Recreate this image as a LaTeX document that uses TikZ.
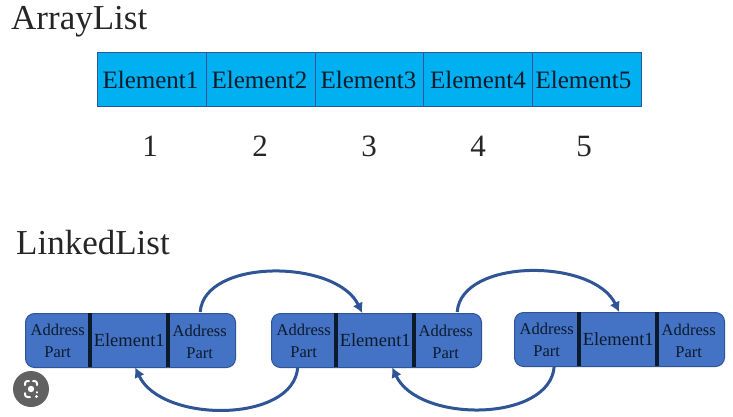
\documentclass[tikz,border=0pt]{standalone}
\usepackage{fontspec}
\setmainfont{Liberation Serif}
\usetikzlibrary{arrows.meta}
\definecolor{cyanfill}{HTML}{00B0F0}
\definecolor{bluefill}{HTML}{4472C4}
\definecolor{blueline}{HTML}{2F5597}
\definecolor{inktext}{HTML}{0B1B2B}
\newcommand{\fs}[1]{\fontsize{#1}{#1}\selectfont}
\tikzset{
  x=1pt,y=-1pt,
  title/.style={anchor=base west,inner sep=0pt,text=black!85,font=\fs{35}},
  acell/.style={draw=blueline,line width=1pt,fill=cyanfill,minimum height=54pt,inner sep=0pt,text=inktext,font=\fs{25},anchor=north west},
  idx/.style={inner sep=0pt,text=black!85,font=\fs{31}},
  lbox/.style={draw=blueline,line width=1pt,fill=bluefill,rounded corners=9pt,minimum width=210pt,minimum height=54pt,inner sep=0pt,anchor=north west},
  lcell/.style={minimum height=54pt,inner sep=0pt,anchor=north west,text=inktext},
  addr/.style={lcell,align=center,font=\fs{16.5}},
  elem/.style={lcell,font=\fs{18.5}},
  divider/.style={draw=inktext,line width=3.2pt},
  link/.style={draw=blueline,line width=3pt,-{Latex[length=10pt,width=11pt]}},
}
\newcommand{\addrtext}{Address\\[5.5pt]Part}
\begin{document}
\begin{tikzpicture}
\useasboundingbox (0,0) rectangle (733,416);
\fill[white] (0,0) rectangle (733,416);
\node[title] (tarr) at (11,29) {ArrayList};
\node[title] (tlnk) at (16,254) {LinkedList};

\node[acell,minimum width=109pt] (c1) at (97,52) {Element1\hspace*{3pt}};
\node[acell,minimum width=109pt] (c2) at (206,52) {Element2\hspace*{3pt}};
\node[acell,minimum width=108pt] (c3) at (315,52) {Element3\hspace*{2pt}};
\node[acell,minimum width=109pt] (c4) at (423,52) {Element4};
\node[acell,minimum width=109pt] (c5) at (532,52) {Element5\hspace*{7pt}};

\node[idx] (n1) at (150,146) {1};
\node[idx] (n2) at (260,146) {2};
\node[idx] (n3) at (369,146) {3};
\node[idx] (n4) at (478,146) {4};
\node[idx] (n5) at (584,146) {5};

% first list box
\node[lbox] (b1) at (25,313) {};
\node[addr,minimum width=65pt] (a1) at (25,314) {\addrtext};
\node[elem,minimum width=78pt] (e1) at (90,313) {Element1};
\node[addr,minimum width=63pt] (z1) at (168,315) {\addrtext};
\draw[divider] (90,313) -- (90,367);
\draw[divider] (168,313) -- (168,367);

% second list box
\node[lbox] (b2) at (271,313) {};
\node[addr,minimum width=65pt] (a2) at (271,314) {\addrtext};
\node[elem,minimum width=78pt] (e2) at (336,313) {Element1};
\node[addr,minimum width=63pt] (z2) at (414,315) {\addrtext};
\draw[divider] (336,313) -- (336,367);
\draw[divider] (414,313) -- (414,367);

% third list box
\node[lbox] (b3) at (514,312) {};
\node[addr,minimum width=65pt] (a3) at (514,313) {\addrtext};
\node[elem,minimum width=78pt] (e3) at (579,312) {Element1};
\node[addr,minimum width=63pt] (z3) at (657,314) {\addrtext};
\draw[divider] (579,312) -- (579,366);
\draw[divider] (657,312) -- (657,366);

% connectors
\coordinate (s1) at ([xshift=0.5pt,yshift=3pt]z1.north);
\coordinate (t1) at ([xshift=-13pt]e2.north);
\coordinate (s2) at ([xshift=-6pt,yshift=1pt]a2.south);
\coordinate (t2) at ([xshift=6pt]e1.south);
\coordinate (s3) at ([xshift=11.5pt,yshift=3pt]z2.north);
\coordinate (t3) at ([xshift=1pt]e3.north);
\coordinate (s4) at ([xshift=7.5pt,yshift=1pt]a3.south);
\coordinate (t4) at ([xshift=17pt]e2.south);
\path[link] (s1) .. controls ([xshift=4pt,yshift=54pt]s1) and ([xshift=-26pt,yshift=54pt]t1) .. (t1);
\path[link] (s2) .. controls ([xshift=-4pt,yshift=-56pt]s2) and ([xshift=26pt,yshift=-56pt]t2) .. (t2);
\path[link] (s3) .. controls ([xshift=4pt,yshift=54pt]s3) and ([xshift=-26pt,yshift=54pt]t3) .. (t3);
\path[link] (s4) .. controls ([xshift=-4pt,yshift=-56pt]s4) and ([xshift=26pt,yshift=-56pt]t4) .. (t4);

% lens badge
\fill[black!62] (31,389) circle (18);
\draw[white,line width=2pt,line cap=round,rounded corners=2.5pt]
  (25,385) -- (25,381) -- (29,381)
  (33,381) -- (37,381) -- (37,385)
  (25,393) -- (25,397) -- (30,397);
\draw[white,line width=2pt,line cap=round] (37,392) -- (37,392.5);
\fill[white] (31,389) circle (3.2) (36.5,396.5) circle (1.6);
\end{tikzpicture}
\end{document}
